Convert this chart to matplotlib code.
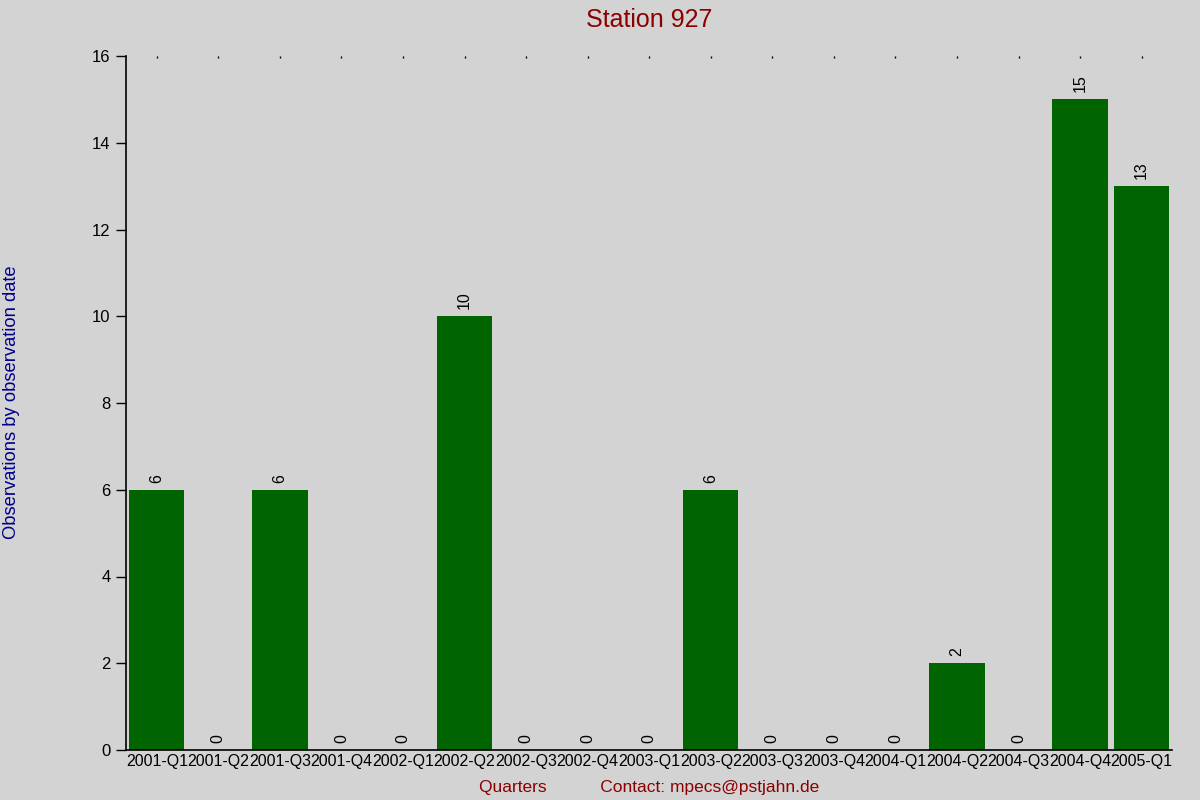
import matplotlib
matplotlib.use("Agg")
import matplotlib.pyplot as plt

categories = ["2001-Q1", "2001-Q2", "2001-Q3", "2001-Q4", "2002-Q1", "2002-Q2",
              "2002-Q3", "2002-Q4", "2003-Q1", "2003-Q2", "2003-Q3", "2003-Q4",
              "2004-Q1", "2004-Q2", "2004-Q3", "2004-Q4", "2005-Q1"]
values = [6, 0, 6, 0, 0, 10, 0, 0, 0, 6, 0, 0, 0, 2, 0, 15, 13]
yticks = [0, 2, 4, 6, 8, 10, 12, 14, 16]

plt.rcParams['font.family'] = ['Liberation Sans', 'DejaVu Sans']

bg = '#d3d3d3'
fig = plt.figure(figsize=(12, 8), dpi=100, facecolor=bg)
ax = fig.add_axes([0.105, 0.0625, 0.872, 0.8675], facecolor=bg)

x = list(range(len(categories)))
ax.bar(x, values, width=0.9, color='#006400', zorder=2)

for xi, v in zip(x, values):
    ax.annotate(str(v), (xi, v), xytext=(0, 5), textcoords='offset points',
                rotation=90, ha='center', va='bottom', fontsize=11.5, color='black')

ax.set_xlim(-0.5, len(categories) - 0.5)
ax.set_ylim(0, 16)
ax.set_yticks(yticks)
ax.set_xticks(x)
ax.set_xticklabels(categories, fontsize=11.5)
ax.tick_params(axis='y', labelsize=12, length=7, width=1, direction='out', pad=4)
ax.tick_params(axis='x', bottom=False, top=True, direction='in', length=1.2, width=1, pad=3)

for s in ['top', 'right']:
    ax.spines[s].set_visible(False)
for s in ['left', 'bottom']:
    ax.spines[s].set_color('black')
    ax.spines[s].set_linewidth(1.2)

ax.set_title("Station 927", color='#8b0000', fontsize=18, pad=21)
ax.set_xlabel("Quarters           Contact: mpecs@pstjahn.de", color='#8b0000', fontsize=12.5, labelpad=8)
fig.text(0.0095, 0.4975, "Observations by observation date", color='#00008b', fontsize=13.2,
         rotation=90, ha='center', va='center')

fig.savefig("out.png", dpi=100, facecolor=bg)
